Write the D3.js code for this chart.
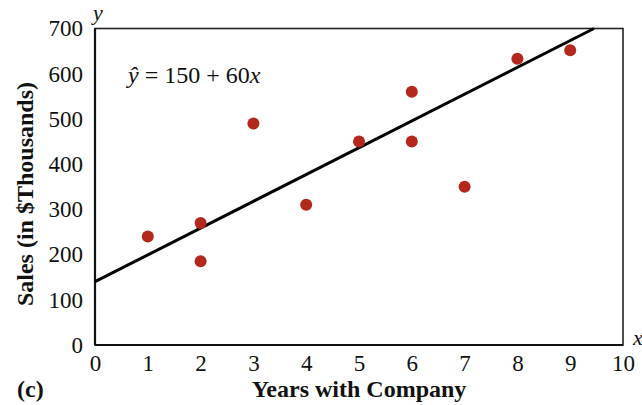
<!DOCTYPE html>
<html lang="en">
<head>
    <meta charset="UTF-8">
    <title>Sales vs Years with Company</title>
    <style>
        html, body {
            margin: 0;
            padding: 0;
            background-color: #fff;
        }
        svg text {
            font-family: 'Liberation Serif', 'DejaVu Serif', serif;
            fill: #111;
        }
    </style>
</head>
<body>
    <div id="graph"></div>
    <script src="https://d3js.org/d3.v7.min.js"></script>
    <script>
        // DATA
        const years = [1, 2, 2, 3, 4, 5, 6, 6, 7, 8, 9];
        const sales = [240, 270, 185, 490, 310, 450, 560, 450, 350, 633, 652];
        const xTicks = [0, 1, 2, 3, 4, 5, 6, 7, 8, 9, 10];
        const yTicks = [0, 100, 200, 300, 400, 500, 600, 700];
        // fitted line as drawn in the figure
        const lineX = [0, 9.45];
        const lineY = [140, 700];

        const W = 642, H = 405;
        const margin = {top: 28.5, left: 95, bottom: 60, right: 19};
        const width = W - margin.left - margin.right;
        const height = H - margin.top - margin.bottom;

        const svg = d3.select("#graph")
            .append("svg")
            .attr("width", W)
            .attr("height", H);

        const g = svg.append("g")
            .attr("transform", `translate(${margin.left}, ${margin.top})`);

        const x = d3.scaleLinear().domain([0, 10]).range([0, width]);
        const y = d3.scaleLinear().domain([0, 700]).range([height, 0]);

        // AXES (labels only)
        const xAxis = g.append("g")
            .attr("transform", `translate(0, ${height})`)
            .call(d3.axisBottom(x).tickValues(xTicks).tickSize(0).tickPadding(10).tickFormat(d3.format("d")));
        xAxis.select(".domain").remove();
        xAxis.selectAll("text")
            .style("font-size", "23px")
            .style("font-family", "'Liberation Serif', serif")
            .attr("fill", "#111");

        const yAxis = g.append("g")
            .call(d3.axisLeft(y).tickValues(yTicks).tickSize(0).tickPadding(12).tickFormat(d3.format("d")));
        yAxis.select(".domain").remove();
        yAxis.selectAll("text")
            .style("font-size", "23px")
            .style("font-family", "'Liberation Serif', serif")
            .attr("fill", "#111");

        // FRAME
        g.append("rect")
            .attr("x", 0)
            .attr("y", 0)
            .attr("width", width)
            .attr("height", height)
            .attr("fill", "none")
            .attr("stroke", "#222")
            .attr("stroke-width", 1.6);
        g.append("line")
            .attr("x1", 0).attr("y1", 0)
            .attr("x2", 0).attr("y2", height)
            .attr("stroke", "#111").attr("stroke-width", 2.2);
        g.append("line")
            .attr("x1", 0).attr("y1", height)
            .attr("x2", width).attr("y2", height)
            .attr("stroke", "#111").attr("stroke-width", 2.2);

        // REGRESSION LINE
        g.append("line")
            .attr("x1", x(lineX[0])).attr("y1", y(lineY[0]))
            .attr("x2", x(lineX[1])).attr("y2", y(lineY[1]))
            .attr("stroke", "#000")
            .attr("stroke-width", 3);

        // POINTS
        g.selectAll("circle")
            .data(years).enter()
            .append("circle")
            .attr("cx", (d) => x(d))
            .attr("cy", (d, i) => y(sales[i]))
            .attr("r", 6)
            .attr("fill", "#b3281b");

        // EQUATION
        const eq = g.append("text")
            .attr("x", 33)
            .attr("y", 54)
            .style("font-size", "24px");
        eq.append("tspan").style("font-style", "italic").text("\u0177");
        eq.append("tspan").text(" = 150 + 60");
        eq.append("tspan").style("font-style", "italic").text("x");

        // AXIS LETTERS
        svg.append("text")
            .attr("x", 93)
            .attr("y", 20)
            .style("font-size", "22px")
            .style("font-style", "italic")
            .text("y");
        svg.append("text")
            .attr("x", 633)
            .attr("y", 345)
            .style("font-size", "22px")
            .style("font-style", "italic")
            .text("x");

        // TITLES
        svg.append("text")
            .attr("x", 359)
            .attr("y", 397)
            .attr("text-anchor", "middle")
            .style("font-size", "24px")
            .style("font-weight", "bold")
            .text("Years with Company");

        svg.append("text")
            .attr("transform", "translate(33, 194) rotate(-90)")
            .attr("text-anchor", "middle")
            .style("font-size", "24px")
            .style("font-weight", "bold")
            .text("Sales (in $Thousands)");

        svg.append("text")
            .attr("x", 17)
            .attr("y", 397)
            .style("font-size", "24px")
            .style("font-weight", "bold")
            .text("(c)");
    </script>
</body>
</html>
